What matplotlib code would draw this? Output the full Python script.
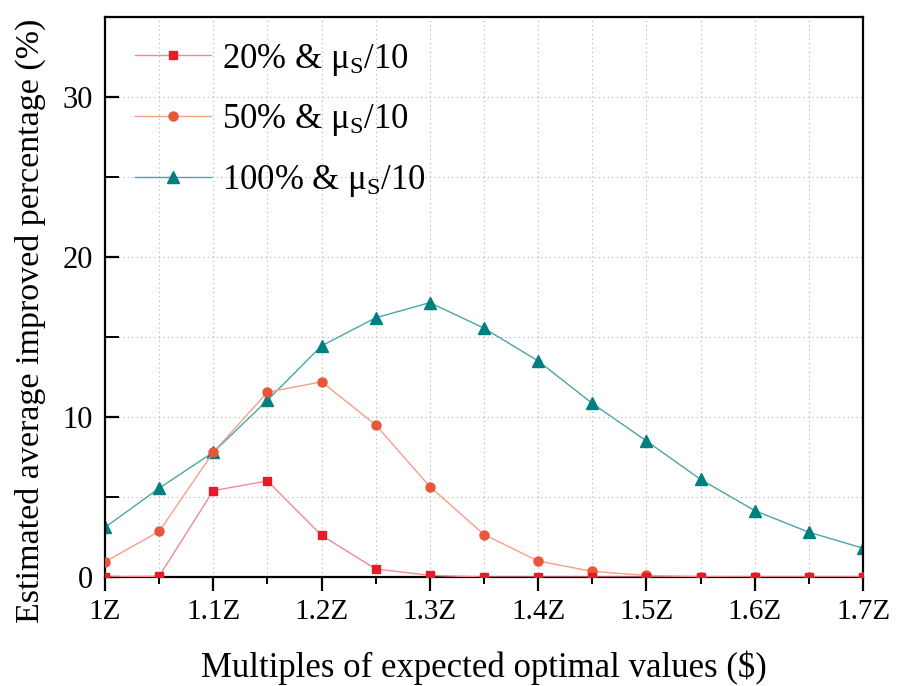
import matplotlib
matplotlib.use("Agg")
import matplotlib.pyplot as plt
from matplotlib.ticker import MultipleLocator, FuncFormatter

plt.rcParams['font.family'] = ['Liberation Serif', 'DejaVu Serif']
plt.rcParams['mathtext.fontset'] = 'custom'
plt.rcParams['mathtext.rm'] = 'Liberation Serif'
plt.rcParams['mathtext.it'] = 'Liberation Serif:italic'

x = [1.0, 1.05, 1.1, 1.15, 1.2, 1.25, 1.3, 1.35, 1.4, 1.45, 1.5, 1.55, 1.6, 1.65, 1.7]
y20 = [0.0, 0.05, 5.4, 6.0, 2.6, 0.5, 0.1, 0.0, 0.0, 0.0, 0.0, 0.0, 0.0, 0.0, 0.0]
y50 = [0.95, 2.85, 7.8, 11.55, 12.2, 9.5, 5.65, 2.65, 1.0, 0.35, 0.1, 0.02, 0.0, 0.0, 0.0]
y100 = [3.1, 5.55, 7.8, 11.05, 14.45, 16.2, 17.15, 15.55, 13.5, 10.85, 8.5, 6.1, 4.15, 2.8, 1.8]
labels = [r'20% & $\mathregular{\mu_S}$/10', r'50% & $\mathregular{\mu_S}$/10',
          r'100% & $\mathregular{\mu_S}$/10']

fig = plt.figure(figsize=(9, 6.86), dpi=100)
ax = fig.add_axes([0.1167, 0.1589, 0.8422, 0.8163])

ax.plot(x, y20, color='#f28a96', lw=1.0, marker='s', ms=6, mfc='#e8192c', mec='#e8192c', label=labels[0], zorder=4)
ax.plot(x, y50, color='#f4a08a', lw=1.0, marker='o', ms=6.5, mfc='#e8573a', mec='#e8573a', label=labels[1], zorder=3)
ax.plot(x, y100, color='#4aa6a6', lw=1.0, marker='^', ms=8, mfc='#007f7f', mec='#007f7f', label=labels[2], zorder=2)

ax.set_xlim(1.0, 1.7)
ax.set_ylim(0, 35)
ax.xaxis.set_major_locator(MultipleLocator(0.1))
ax.xaxis.set_minor_locator(MultipleLocator(0.05))
ax.yaxis.set_major_locator(MultipleLocator(10))
ax.yaxis.set_minor_locator(MultipleLocator(5))
ax.xaxis.set_major_formatter(FuncFormatter(lambda v, p: ('1Z' if abs(v - 1) < 1e-6 else f'{v:.1f}Z')))

ax.grid(True, which='both', ls=(0, (1, 3)), color='#b0b0b0', lw=0.8)
ax.set_axisbelow(True)

for s in ax.spines.values():
    s.set_linewidth(1.6)
ax.tick_params(axis='x', which='major', direction='out', length=10, width=1.6, labelsize=21, pad=6)
ax.tick_params(axis='x', which='minor', direction='out', length=5, width=1.4)
ax.tick_params(axis='y', which='major', direction='in', length=10, width=1.6, labelsize=22, pad=9)
ax.tick_params(axis='y', which='minor', direction='in', length=10, width=1.4)

ax.set_xlabel('Multiples of expected optimal values ($)', fontsize=25, labelpad=18)
ax.set_ylabel('Estimated average improved percentage (%)', fontsize=24.5)
ax.yaxis.set_label_coords(-0.078, 0.457)

leg = ax.legend(loc='upper left', fontsize=25, frameon=False, handlelength=2.2,
                bbox_to_anchor=(0.021, 0.981), labelspacing=0.71, handletextpad=0.3,
                borderaxespad=0)

fig.savefig('out.png', dpi=100)
